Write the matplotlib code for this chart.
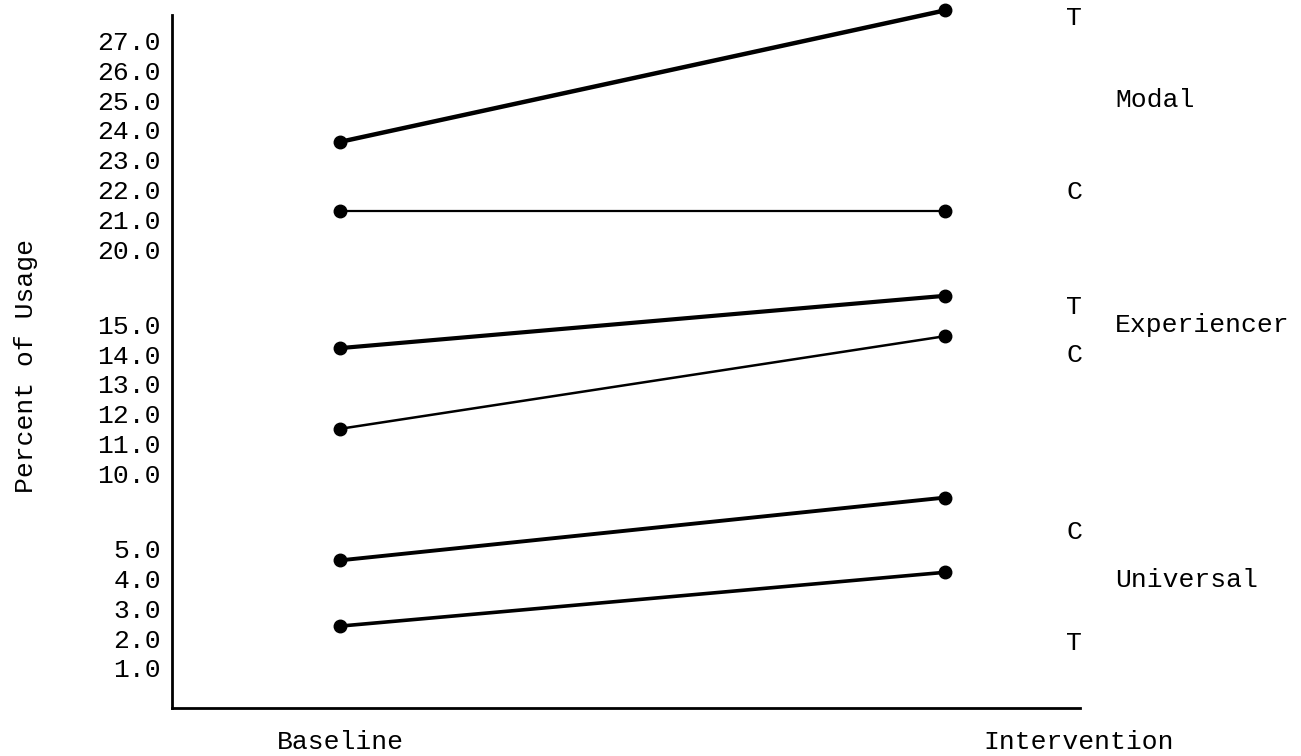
import numpy as np
import matplotlib.pyplot as plt

plt.rcParams['font.family'] = ['Liberation Mono', 'DejaVu Sans Mono']

phases = ['Baseline', 'Intervention']
# percent of usage (baseline, intervention)
modal_t = [23.6, 28.0]
modal_c = [21.3, 21.3]
exper_t = [14.2, 16.9]
exper_c = [11.5, 14.6]
univ_c = [4.6, 8.4]
univ_t = [2.4, 4.2]

yticks = [1, 2, 3, 4, 5, 10, 11, 12, 13, 14, 15, 20, 21, 22, 23, 24, 25, 26, 27]

# broken axis: 5-10 and 15-20 compressed to half a step each
brk_v = [-10, 5, 10, 15, 20, 40]
brk_p = [-10, 5, 7.5, 12.5, 15, 35]


def fwd(v):
    return np.interp(v, brk_v, brk_p)


def inv(p):
    return np.interp(p, brk_p, brk_v)


fs = 19
fig = plt.figure(figsize=(13.01, 7.56), dpi=100)
ax = fig.add_axes([0.1322, 0.0635, 0.6980, 0.9165])
ax.set_yscale('function', functions=(fwd, inv))

x = [0, 1]
series = [
    (modal_t, 3.2),
    (modal_c, 1.6),
    (exper_t, 3.0),
    (exper_c, 1.8),
    (univ_c, 2.8),
    (univ_t, 2.6),
]
for vals, lw in series:
    ax.plot(x, vals, color='black', lw=lw, marker='o', ms=9, clip_on=False)

ax.set_xlim(-0.278, 1.223)
ax.set_ylim(-0.34, 27.84)
ax.set_yticks(yticks)
ax.set_yticklabels([f'{v:.1f}' for v in yticks])
ax.tick_params(axis='y', length=0, pad=8, labelsize=fs)
ax.set_xticks([0.0, 1.22])
ax.set_xticklabels(phases)
ax.tick_params(axis='x', length=0, pad=16, labelsize=fs)
ax.spines['top'].set_visible(False)
ax.spines['right'].set_visible(False)
ax.spines['left'].set_linewidth(2)
ax.spines['bottom'].set_linewidth(2)
fig.text(26 / 1301, 1 - 366 / 756, 'Percent of Usage', fontsize=fs,
         rotation=90, ha='center', va='center')

# group / condition labels on the right
side = [
    ('T', 1066, 18), ('Modal', 1115, 100), ('C', 1066, 192),
    ('T', 1066, 307), ('Experiencer', 1115, 325), ('C', 1066, 355),
    ('C', 1066, 532), ('Universal', 1115, 580), ('T', 1066, 643),
]
for txt, px, py in side:
    fig.text(px / 1301, 1 - py / 756, txt, fontsize=fs, ha='left', va='center')

fig.savefig('out.png', dpi=100)
